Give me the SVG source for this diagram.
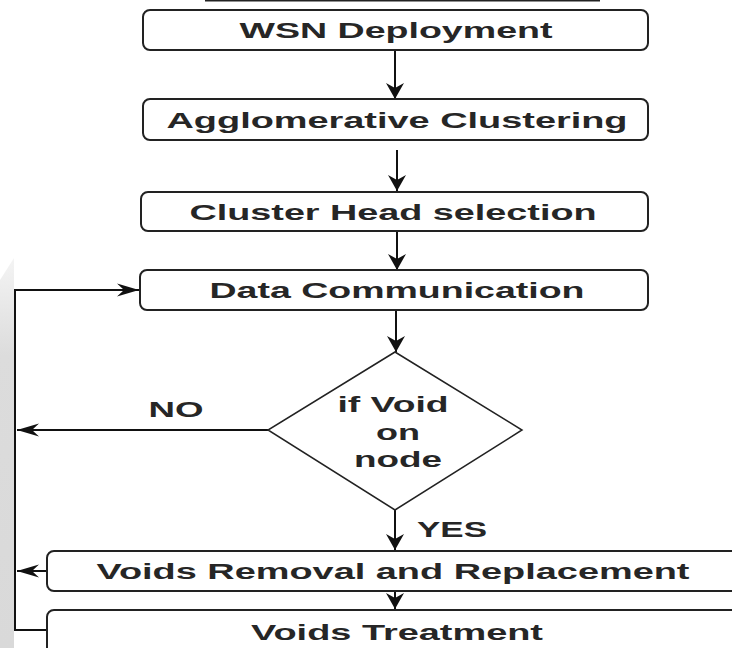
<svg xmlns="http://www.w3.org/2000/svg" width="732" height="648" viewBox="0 0 732 648">
<style>
.box{fill:#fff;stroke:#222;stroke-width:2}
.dia{fill:#fff;stroke:#222;stroke-width:1.5}
.t{font-family:"Liberation Sans",Arial,sans-serif;font-size:22px;font-weight:bold;fill:#262626;text-anchor:middle}
.c{fill:none;stroke:#111;stroke-width:2}
</style>
<defs>
<marker id="av" viewBox="0 0 16 20" refX="16" refY="10" markerWidth="16" markerHeight="20" orient="auto" markerUnits="userSpaceOnUse">
<path d="M0,1 L16,10 L0,19 L5,10 z" fill="#111"/>
</marker>
<marker id="ah" viewBox="0 0 22 14" refX="22" refY="7" markerWidth="22" markerHeight="14" orient="auto" markerUnits="userSpaceOnUse">
<path d="M0,0.5 L22,7 L0,13.5 L7,7 z" fill="#111"/>
</marker>
<linearGradient id="wm" x1="0" y1="0" x2="0" y2="1">
<stop offset="0" stop-color="#f4f4f4"/>
<stop offset="0.25" stop-color="#dcdcdc"/>
<stop offset="1" stop-color="#d9d9d9"/>
</linearGradient>
</defs>
<rect width="732" height="648" fill="#fff"/>
<polygon points="0,280 14,258 14,648 0,648" fill="url(#wm)"/>
<line x1="205" y1="0.75" x2="600" y2="0.75" stroke="#222" stroke-width="1.5"/>
<g id="connectors">
<line class="c" x1="395" y1="36" x2="395" y2="99" marker-end="url(#av)"/>
<line class="c" x1="397" y1="150" x2="397" y2="191" marker-end="url(#av)"/>
<line class="c" x1="397" y1="231" x2="397" y2="270" marker-end="url(#av)"/>
<line class="c" x1="396" y1="310" x2="396" y2="352" marker-end="url(#av)"/>
<line class="c" x1="268" y1="430" x2="17" y2="430" marker-end="url(#ah)"/>
<line class="c" x1="395" y1="510" x2="395" y2="550" marker-end="url(#av)"/>
<line class="c" x1="395" y1="591" x2="395" y2="609" marker-end="url(#av)"/>
<line class="c" x1="47" y1="571" x2="17" y2="571" marker-end="url(#ah)"/>
<polyline class="c" points="47,630 15,630 15,290 139,290" marker-end="url(#ah)"/>
</g>
<g id="n1"><rect class="box" x="143" y="10" width="505" height="40" rx="7"/><text class="t" x="396" y="38" textLength="313" lengthAdjust="spacingAndGlyphs">WSN Deployment</text></g>
<g id="n2"><rect class="box" x="143" y="99" width="505" height="41" rx="7"/><text class="t" x="397" y="128" textLength="461" lengthAdjust="spacingAndGlyphs">Agglomerative Clustering</text></g>
<g id="n3"><rect class="box" x="141" y="192" width="507" height="39" rx="7"/><text class="t" x="393" y="220" textLength="407" lengthAdjust="spacingAndGlyphs">Cluster Head selection</text></g>
<g id="n4"><rect class="box" x="140" y="270" width="508" height="40" rx="7"/><text class="t" x="397" y="298" textLength="375" lengthAdjust="spacingAndGlyphs">Data Communication</text></g>
<g id="n5"><polygon class="dia" points="395,352 522,430 395,510 268,430"/>
<text class="t" x="393" y="412" textLength="111" lengthAdjust="spacingAndGlyphs">if Void</text>
<text class="t" x="398" y="440" textLength="44" lengthAdjust="spacingAndGlyphs">on</text>
<text class="t" x="398" y="467" textLength="88" lengthAdjust="spacingAndGlyphs">node</text></g>
<g id="n6"><rect class="box" x="47" y="551" width="700" height="40" rx="7"/><text class="t" x="393" y="579" textLength="593" lengthAdjust="spacingAndGlyphs">Voids Removal and Replacement</text></g>
<g id="n7"><rect class="box" x="47" y="610" width="700" height="50" rx="7"/><text class="t" x="397" y="640" textLength="292" lengthAdjust="spacingAndGlyphs">Voids Treatment</text></g>
<g id="labels">
<text class="t" x="176" y="417" textLength="55" lengthAdjust="spacingAndGlyphs">NO</text>
<text class="t" x="452" y="537" textLength="70" lengthAdjust="spacingAndGlyphs">YES</text>
</g>
</svg>
